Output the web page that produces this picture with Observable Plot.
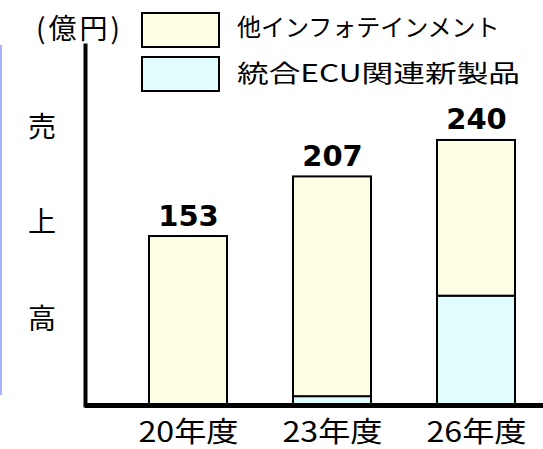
<!DOCTYPE html>
<html>
<head>
<meta charset="utf-8">
<script src="https://cdn.jsdelivr.net/npm/d3@7"></script>
<script src="https://cdn.jsdelivr.net/npm/@observablehq/plot@0.6"></script>
<style>
  html, body { margin: 0; padding: 0; background: #fff; }
  #wrap { position: relative; width: 543px; height: 449px; overflow: hidden; font-family: "Noto Sans CJK JP", sans-serif; color: #000; }
  #chart { position: absolute; left: 0; top: 0; }
  .abs { position: absolute; white-space: nowrap; line-height: 1; transform-origin: 0 50%; }
  .sw { position: absolute; box-sizing: border-box; border: 2px solid #000; }
</style>
</head>
<body>
<div id="wrap">
  <div id="chart"></div>
  <div class="abs" style="left:0;top:45px;width:2px;height:350px;background:#aab4fa;"></div>
  <div class="abs" id="unit" style="left:36px;top:13px;font-size:28px;letter-spacing:3px;"></div>
  <div id="legend"></div>
  <div id="ylab"></div>
</div>
<script>
// ---- data ----
const years = ["20年度", "23年度", "26年度"];
const totals = [153, 207, 240];
const ecuNew = [0, 8, 99];          // 統合ECU関連新製品
const otherInfo = [153, 199, 141];  // 他インフォテインメント
const seriesNames = ["統合ECU関連新製品", "他インフォテインメント"];
const seriesColors = ["#e1fdfd", "#ffffe6"];
const unitLabel = "(億円)";
const yLabelChars = ["売", "上", "高"];

const rows = years.flatMap((yr, i) => [
  {year: yr, series: seriesNames[0], value: ecuNew[i]},
  {year: yr, series: seriesNames[1], value: otherInfo[i]}
]);
const labels = years.map((yr, i) => ({year: yr, total: totals[i]}));

const chart = Plot.plot({
  width: 543,
  height: 449,
  marginLeft: 85,
  marginRight: 0,
  marginTop: 45,
  marginBottom: 44,
  x: {domain: years, range: [83, 581], padding: 0.458},
  y: {domain: [0, 326], axis: null},
  color: {domain: seriesNames, range: seriesColors},
  style: {fontFamily: "'Noto Sans CJK JP', sans-serif", background: "transparent", color: "#000"},
  marks: [
    Plot.barY(rows, {x: "year", y: "value", fill: "series", stroke: "#000", strokeWidth: 2}),
    Plot.text(labels, {x: "year", y: "total", text: d => String(d.total), fontWeight: "bold",
      fontSize: 29, fontFamily: "DejaVu Sans", lineAnchor: "bottom", dy: -11, fill: "#000"}),
    Plot.axisX({tickSize: 0, tickPadding: 17, fontSize: 28, fill: "#000", label: null}),
    Plot.ruleY([0], {strokeWidth: 5, stroke: "#000"}),
    Plot.frame({anchor: "left", strokeWidth: 4, stroke: "#000"})
  ]
});
// widen the x tick labels to match the reference's wide lettering
d3.select(chart).selectAll("g[aria-label='x-axis tick label'] text")
  .attr("textLength", 100).attr("lengthAdjust", "spacingAndGlyphs");
document.getElementById("chart").appendChild(chart);

// unit label
document.getElementById("unit").textContent = unitLabel;

// legend (top to bottom: other, ecu)
const legend = document.getElementById("legend");
const legendItems = [
  {name: seriesNames[1], color: seriesColors[1], top: 12, textTop: 14, fs: 24, sx: 1.0},
  {name: seriesNames[0], color: seriesColors[0], top: 56, textTop: 60, fs: 24, sx: 1.32}
];
legendItems.forEach(it => {
  const sw = document.createElement("div");
  sw.className = "sw";
  sw.style.cssText = `left:141px;top:${it.top}px;width:79px;height:36px;background:${it.color};`;
  legend.appendChild(sw);
  const tx = document.createElement("div");
  tx.className = "abs";
  tx.style.cssText = `left:237px;top:${it.textTop}px;font-size:${it.fs}px;transform:scaleX(${it.sx});`;
  tx.textContent = it.name;
  legend.appendChild(tx);
});

// vertical y label
const ylab = document.getElementById("ylab");
const yCenters = [125, 220, 317];
yLabelChars.forEach((c, i) => {
  const d = document.createElement("div");
  d.className = "abs";
  d.style.cssText = `left:28px;top:${yCenters[i] - 14}px;font-size:28px;`;
  d.textContent = c;
  ylab.appendChild(d);
});
</script>
</body>
</html>
